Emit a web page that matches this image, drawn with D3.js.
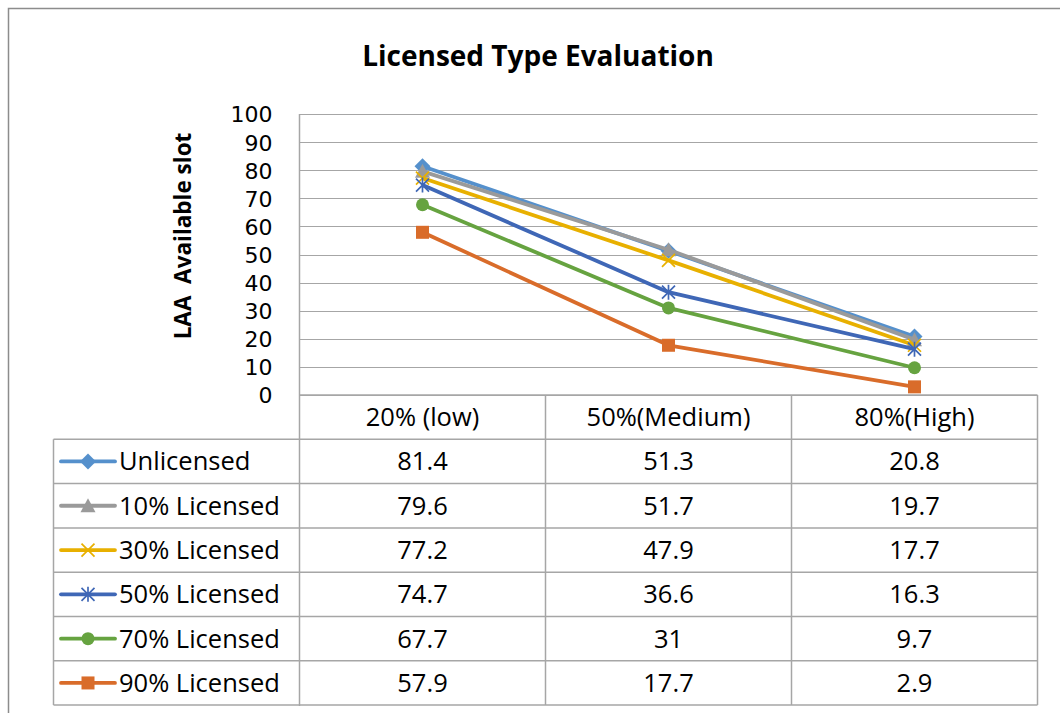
<!DOCTYPE html>
<html><head><meta charset="utf-8">
<script src="https://cdn.jsdelivr.net/npm/d3@7"></script>
<style>
html,body{margin:0;padding:0;background:#fff;}
svg{display:block;font-family:"Open Sans","Noto Sans",sans-serif;}
</style></head>
<body>
<svg id="c" width="1060" height="713"></svg>
<script>
const categories = ["20% (low)", "50%(Medium)", "80%(High)"];
const seriesNames = ["Unlicensed", "10% Licensed", "30% Licensed", "50% Licensed", "70% Licensed", "90% Licensed"];
const unlicensed = [81.4, 51.3, 20.8];
const licensed10 = [79.6, 51.7, 19.7];
const licensed30 = [77.2, 47.9, 17.7];
const licensed50 = [74.7, 36.6, 16.3];
const licensed70 = [67.7, 31, 9.7];
const licensed90 = [57.9, 17.7, 2.9];
const yTicks = [0, 10, 20, 30, 40, 50, 60, 70, 80, 90, 100];
const chartTitle = "Licensed Type Evaluation";
const yTitle = "LAA  Available slot";

(function () {
const seriesValues = [unlicensed, licensed10, licensed30, licensed50, licensed70, licensed90];
const colors = ["#5590CC", "#9A9A9A", "#E8B000", "#3F67B6", "#66A340", "#D96C2A"];
const markers = ["diamond", "triangle", "x", "asterisk", "circle", "square"];
const fs = 25.5;

const svg = d3.select("#c");
svg.append("rect").attr("x", 8.5).attr("y", 8.5).attr("width", 1100).attr("height", 800)
  .attr("fill", "none").attr("stroke", "#8c8c8c").attr("stroke-width", 1.5);

const pLeft = 299.5, pRight = 1037.5, pTop = 114, pBottom = 395;
const x = d3.scaleBand().domain(categories).range([pLeft, pRight]);
const y = d3.scaleLinear().domain([0, 100]).range([pBottom, pTop]);

svg.append("text").attr("x", 538).attr("y", 66).attr("text-anchor", "middle")
  .attr("font-size", 28).attr("font-weight", "bold").attr("fill", "#000").text(chartTitle);

svg.append("g").selectAll("line").data(yTicks).join("line")
  .attr("x1", pLeft).attr("x2", pRight)
  .attr("y1", d => Math.round(y(d)) + 0.5).attr("y2", d => Math.round(y(d)) + 0.5)
  .attr("stroke", "#a6a6a6").attr("stroke-width", 1);

const yAxis = d3.axisLeft(y).tickValues(yTicks).tickSize(0).tickPadding(27);
const ga = svg.append("g").attr("transform", `translate(${pLeft},0)`).call(yAxis);
ga.select(".domain").remove();
ga.selectAll("text").attr("font-size", 22).attr("fill", "#000").attr("dy", "0.36em")
  .attr("font-family", "'DejaVu Sans',sans-serif");
svg.append("line").attr("x1", pLeft).attr("x2", pLeft).attr("y1", pTop).attr("y2", 706)
  .attr("stroke", "#a6a6a6").attr("stroke-width", 1.5);

svg.append("text").attr("transform", `translate(191,236) rotate(-90)`)
  .attr("text-anchor", "middle").attr("font-size", 22.5).attr("font-weight", "bold")
  .attr("fill", "#000").attr("xml:space", "preserve").style("white-space", "pre").text(yTitle);

const rowH = 44.3, headTop = 395, legLeft = 53.5;
const rows = d3.range(seriesNames.length);
const tbl = svg.append("g");
const lineC = "#a6a6a6";
tbl.selectAll("line.h").data(d3.range(seriesNames.length + 1)).join("line")
  .attr("x1", legLeft).attr("x2", pRight)
  .attr("y1", i => headTop + rowH * (i + 1)).attr("y2", i => headTop + rowH * (i + 1))
  .attr("stroke", lineC).attr("stroke-width", 1.5);
tbl.append("line").attr("x1", pLeft).attr("x2", pRight).attr("y1", headTop).attr("y2", headTop)
  .attr("stroke", lineC).attr("stroke-width", 1.5);
const colEdges = [x(categories[0]) + x.bandwidth(), x(categories[1]) + x.bandwidth(), pRight];
tbl.selectAll("line.v").data(colEdges).join("line")
  .attr("x1", d => d).attr("x2", d => d).attr("y1", headTop).attr("y2", headTop + rowH * 7)
  .attr("stroke", lineC).attr("stroke-width", 1.5);
tbl.append("line").attr("x1", legLeft).attr("x2", legLeft).attr("y1", headTop + rowH).attr("y2", headTop + rowH * 7)
  .attr("stroke", lineC).attr("stroke-width", 1.5);
tbl.selectAll("text.hd").data(categories).join("text")
  .attr("x", d => x(d) + x.bandwidth() / 2).attr("y", headTop + rowH / 2 + 9)
  .attr("text-anchor", "middle").attr("font-size", fs).attr("fill", "#000").text(d => d);
rows.forEach(i => {
  tbl.append("g").selectAll("text").data(seriesValues[i]).join("text")
    .attr("x", (d, j) => x(categories[j]) + x.bandwidth() / 2)
    .attr("y", headTop + rowH * (i + 1) + rowH / 2 + 9)
    .attr("text-anchor", "middle").attr("font-size", fs).attr("fill", "#000").text(d => d);
});

function drawMarker(g, type, color, cx, cy, s) {
  const h = s / 2;
  if (type === "diamond") {
    g.append("path").attr("d", `M${cx},${cy - h - 1.5}L${cx + h + 1.5},${cy}L${cx},${cy + h + 1.5}L${cx - h - 1.5},${cy}Z`).attr("fill", color);
  } else if (type === "triangle") {
    g.append("path").attr("d", `M${cx},${cy - h - 1}L${cx + h + 1},${cy + h}L${cx - h - 1},${cy + h}Z`).attr("fill", color);
  } else if (type === "x") {
    g.append("path").attr("d", `M${cx - h},${cy - h}L${cx + h},${cy + h}M${cx - h},${cy + h}L${cx + h},${cy - h}`)
      .attr("stroke", color).attr("stroke-width", 1.7).attr("fill", "none");
  } else if (type === "asterisk") {
    g.append("path").attr("d", `M${cx - h},${cy - h}L${cx + h},${cy + h}M${cx - h},${cy + h}L${cx + h},${cy - h}M${cx},${cy - h - 1}L${cx},${cy + h + 1}`)
      .attr("stroke", color).attr("stroke-width", 1.7).attr("fill", "none");
  } else if (type === "circle") {
    g.append("circle").attr("cx", cx).attr("cy", cy).attr("r", h).attr("fill", color);
  } else if (type === "square") {
    g.append("rect").attr("x", cx - h).attr("y", cy - h).attr("width", s).attr("height", s).attr("fill", color);
  }
}

rows.forEach(i => {
  const cy = headTop + rowH * (i + 1) + rowH / 2;
  const g = tbl.append("g");
  g.append("line").attr("x1", 61).attr("x2", 115).attr("y1", cy).attr("y2", cy)
    .attr("stroke", colors[i]).attr("stroke-width", 3.8).attr("stroke-linecap", "round");
  drawMarker(g, markers[i], colors[i], 88, cy, 13);
  g.append("text").attr("x", 119).attr("y", cy + 9).attr("font-size", fs).attr("fill", "#000").text(seriesNames[i]);
});

const line = d3.line().x((d, j) => x(categories[j]) + x.bandwidth() / 2).y(d => y(d));
const plot = svg.append("g");
rows.forEach(i => {
  plot.append("path").datum(seriesValues[i]).attr("d", line).attr("fill", "none")
    .attr("stroke", colors[i]).attr("stroke-width", 3.8).attr("stroke-linejoin", "round");
  const g = plot.append("g");
  seriesValues[i].forEach((v, j) => drawMarker(g, markers[i], colors[i], x(categories[j]) + x.bandwidth() / 2, y(v), 13));
});
})();
</script>
</body></html>
